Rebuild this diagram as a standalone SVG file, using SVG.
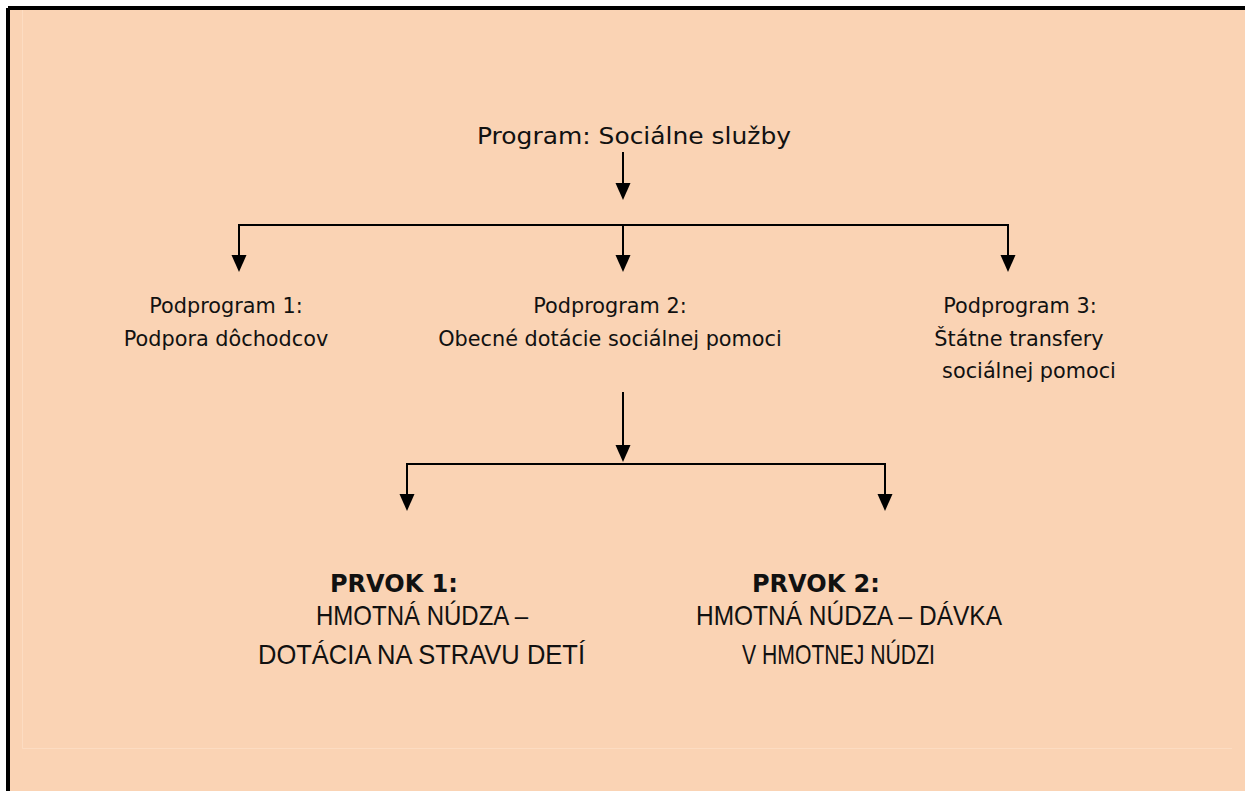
<svg xmlns="http://www.w3.org/2000/svg" width="1245" height="791" viewBox="0 0 1245 791">
<defs>
<style>
.conn{stroke:#000;stroke-width:2;fill:none}
.head{fill:#000}
.sub{font-family:"DejaVu Sans",Verdana,sans-serif;font-size:20.8px;fill:#111;text-anchor:middle}
.title{font-family:"DejaVu Sans",sans-serif;font-size:23px;fill:#111}
.bold{font-family:"DejaVu Sans",sans-serif;font-weight:bold;font-size:24px;fill:#111}
.cap{font-family:"Liberation Sans",Arial,sans-serif;font-size:28px;fill:#111}
</style>
</defs>
<rect x="0" y="0" width="1245" height="791" fill="#fff"/>
<rect x="8" y="8" width="1237" height="783" fill="#FAD3B4"/>
<path d="M22.5,10 V748.5 H1232" fill="none" stroke="#FCDCC2" stroke-width="1"/>
<path d="M8,8 H1245 M8,8 V791" stroke="#000" stroke-width="4" fill="none"/>
<g id="connectors">
<path class="conn" d="M623,152 V184"/>
<path class="head" d="M615.5,183 H630.5 L623,200 Z"/>
<path class="conn" d="M239,257 V225 H1008 V257"/>
<path class="conn" d="M623,225 V257"/>
<path class="head" d="M231.5,255 H246.5 L239,272 Z"/>
<path class="head" d="M615.5,255 H630.5 L623,272 Z"/>
<path class="head" d="M1000.5,255 H1015.5 L1008,272 Z"/>
<path class="conn" d="M623,392 V447"/>
<path class="head" d="M615.5,445 H630.5 L623,462 Z"/>
<path class="conn" d="M407,496 V464 H885 V496"/>
<path class="head" d="M399.5,494 H414.5 L407,511 Z"/>
<path class="head" d="M877.5,494 H892.5 L885,511 Z"/>
</g>
<g id="program">
<text class="title" x="477" y="144" textLength="314" lengthAdjust="spacingAndGlyphs">Program: Sociálne služby</text>
</g>
<g id="podprogram1">
<text class="sub" x="226" y="313">Podprogram 1:</text>
<text class="sub" x="226" y="346">Podpora dôchodcov</text>
</g>
<g id="podprogram2">
<text class="sub" x="610" y="313">Podprogram 2:</text>
<text class="sub" x="610" y="346">Obecné dotácie sociálnej pomoci</text>
</g>
<g id="podprogram3">
<text class="sub" x="1020" y="313">Podprogram 3:</text>
<text class="sub" x="1019" y="346">Štátne transfery</text>
<text class="sub" x="1029" y="378">sociálnej pomoci</text>
</g>
<g id="prvok1">
<text class="bold" x="330" y="592">PRVOK 1:</text>
<text class="cap" x="316" y="625" textLength="212" lengthAdjust="spacingAndGlyphs">HMOTNÁ NÚDZA –</text>
<text class="cap" x="258" y="664" textLength="327" lengthAdjust="spacingAndGlyphs">DOTÁCIA NA STRAVU DETÍ</text>
</g>
<g id="prvok2">
<text class="bold" x="752" y="592">PRVOK 2:</text>
<text class="cap" x="696" y="625" textLength="306" lengthAdjust="spacingAndGlyphs">HMOTNÁ NÚDZA – DÁVKA</text>
<text class="cap" x="742" y="664" textLength="193" lengthAdjust="spacingAndGlyphs">V HMOTNEJ NÚDZI</text>
</g>
</svg>
